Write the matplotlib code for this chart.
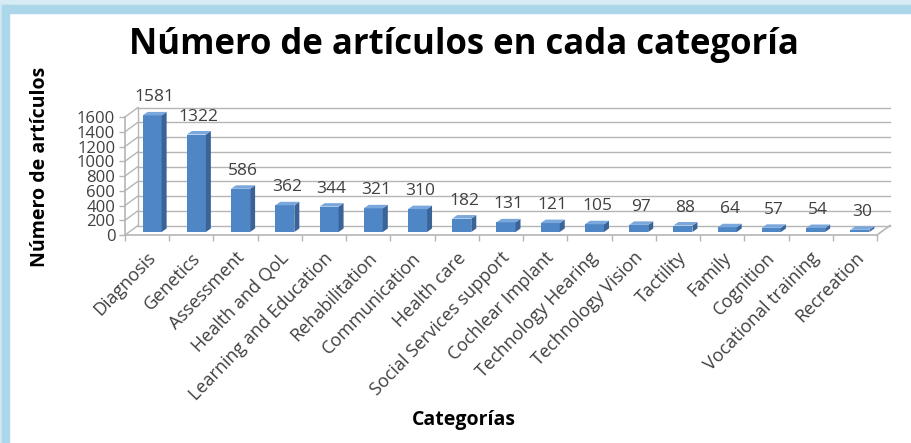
import numpy as np
import matplotlib
matplotlib.use("Agg")
import matplotlib.pyplot as plt
from matplotlib import transforms
from matplotlib.patches import Polygon, Rectangle

categories = ["Diagnosis", "Genetics", "Assessment", "Health and QoL",
              "Learning and Education", "Rehabilitation", "Communication",
              "Health care", "Social Services support", "Cochlear Implant",
              "Technology Hearing", "Technology Vision", "Tactility", "Family",
              "Cognition", "Vocational training", "Recreation"]
values = [1581, 1322, 586, 362, 344, 321, 310, 182, 131, 121, 105, 97, 88, 64, 57, 54, 30]
yticks = [0, 200, 400, 600, 800, 1000, 1200, 1400, 1600]

title = "Número de artículos en cada categoría"
ylabel = "Número de artículos"
xlabel = "Categorías"

W, H, DPI = 912, 443, 100
fig = plt.figure(figsize=(W / DPI, H / DPI), dpi=DPI)
fig.patch.set_facecolor("white")

# frame decoration
fig.patches.append(Rectangle((0, 1 - 5 / H), 1, 5 / H, transform=fig.transFigure,
                             color="#d7ebf4", zorder=0))
fig.patches.append(Rectangle((0, 1 - 13 / H), 1, 8 / H, transform=fig.transFigure,
                             color="#acd6e9", zorder=0))
fig.patches.append(Rectangle((0, 0), 2 / W, 1 - 5 / H, transform=fig.transFigure,
                             color="#d0e8f3", zorder=0))
fig.patches.append(Rectangle((2 / W, 0), 7 / W, 1 - 5 / H, transform=fig.transFigure,
                             color="#acd6e9", zorder=0))

# front plane of the 3D chart in pixels
x0, x1 = 125, 877
y0, y1 = 235, 117
n = len(categories)
ymax = 1600
ax = fig.add_axes([x0 / W, (H - y0) / H, (x1 - x0) / W, (y0 - y1) / H])
ax.set_xlim(0, n)
ax.set_ylim(0, ymax)
for s in ax.spines.values():
    s.set_visible(False)
ax.patch.set_visible(False)

px_x = (x1 - x0) / n        # pixels per category
px_y = (y0 - y1) / ymax     # pixels per unit

# depth vector of the floor (pixels, y up)
DX, DY = 13, 9.5
ddx, ddy = DX / px_x, DY / px_y
grid_c = "#b5b5b5"

# back wall gridlines and side wall diagonals
for t in yticks:
    ax.plot([ddx, n + ddx], [t + ddy, t + ddy], color=grid_c, lw=1, clip_on=False, zorder=1)
    ax.plot([0, ddx], [t, t + ddy], color=grid_c, lw=1, clip_on=False, zorder=1)
ax.plot([ddx, ddx], [ddy, ymax + ddy], color=grid_c, lw=1, clip_on=False, zorder=1)
# floor
ax.plot([0, n], [0, 0], color=grid_c, lw=1.2, clip_on=False, zorder=1)
ax.plot([n, n + ddx], [0, ddy], color=grid_c, lw=1.2, clip_on=False, zorder=1)
# front vertical axis
ax.plot([0, 0], [0, ymax], color=grid_c, lw=1.2, clip_on=False, zorder=1)

ax.set_yticks(yticks)
ax.set_yticklabels([str(t) for t in yticks], fontsize=12, color="#404040", family="Open Sans")
ax.set_xticks(np.arange(n + 1))
ax.set_xticklabels([])
ax.tick_params(axis="both", length=4, color=grid_c, width=1)
ax.tick_params(axis="y", pad=3)

# bars (pseudo-3D)
fx, fy = 5 / px_x, 3 / px_y      # front face offset
bdx, bdy = 5 / px_x, 3.5 / px_y  # bar depth
bw = 0.43
front_c, side_c, top_c = "#4f86c6", "#3a6498", "#7aa7dc"
for i, v in enumerate(values):
    xl = i + 0.5 - bw / 2 + fx
    xr = xl + bw
    yb = fy
    yt = v + fy
    ax.add_patch(Rectangle((xl, yb), bw, v, facecolor=front_c, edgecolor="none",
                           zorder=3, clip_on=False))
    ax.add_patch(Polygon([(xr, yb), (xr + bdx, yb + bdy), (xr + bdx, yt + bdy), (xr, yt)],
                         closed=True, facecolor=side_c, edgecolor="none", zorder=3, clip_on=False))
    ax.add_patch(Polygon([(xl, yt), (xr, yt), (xr + bdx, yt + bdy), (xl + bdx, yt + bdy)],
                         closed=True, facecolor=top_c, edgecolor="none", zorder=3, clip_on=False))
    ax.text(i + 0.5 + fx + bdx / 2, v, str(v), ha="center", va="center", fontsize=12.5,
            color="#404040", family="Open Sans",
            transform=transforms.offset_copy(ax.transData, fig=fig, x=0, y=21, units="dots"))

lab_tr = transforms.offset_copy(ax.transData, fig=fig, x=6, y=-20, units="dots")
for i, c in enumerate(categories):
    ax.text(i + 0.5, 0, c, rotation=46, rotation_mode="anchor", ha="right", va="center",
            fontsize=13, color="#404040", family="Open Sans", transform=lab_tr)

fig.text(464 / W, 1 - 45 / H, title, ha="center", va="center", fontsize=25,
         fontweight="bold", family="Open Sans", color="black")
fig.text(40 / W, 1 - 167 / H, ylabel, ha="center", va="center", rotation=90, fontsize=14,
         fontweight="bold", family="Open Sans", color="black")
fig.text(464 / W, 1 - 420 / H, xlabel, ha="center", va="center", fontsize=14,
         fontweight="bold", family="Open Sans", color="black")

fig.savefig("out.png", dpi=DPI)
